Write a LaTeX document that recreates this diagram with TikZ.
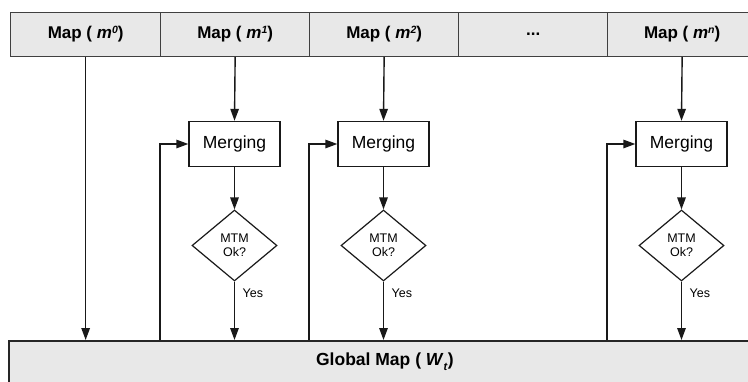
\documentclass[tikz,border=0pt]{standalone}
\usepackage{fontspec}
\setmainfont{Liberation Sans}
\usetikzlibrary{arrows.meta,shapes.geometric}

\begin{document}
\begin{tikzpicture}[x=1pt,y=-1pt,
  cell/.style={draw=black!75,line width=1.3pt,fill=black!9,
    minimum width=149pt,minimum height=44pt,inner sep=0pt,
    anchor=north west,font=\fontsize{17}{19}\selectfont\bfseries},
  bar/.style={draw=black!85,line width=1.7pt,fill=black!9,
    minimum width=752pt,minimum height=42pt,inner sep=0pt,
    anchor=north west,font=\fontsize{17.5}{19}\selectfont\bfseries},
  mergebox/.style={draw=black!90,line width=1.4pt,fill=white,
    minimum width=91pt,minimum height=45pt,inner sep=0pt,
    font=\fontsize{17.5}{20}\selectfont},
  check/.style={diamond,draw=black!90,line width=1.2pt,fill=white,
    minimum width=85pt,minimum height=71pt,inner sep=0pt,align=center,
    font=\fontsize{12.5}{13.5}\selectfont},
  yeslbl/.style={anchor=west,inner sep=0pt,font=\fontsize{12.5}{14}\selectfont},
  flow/.style={draw=black!90,line width=1.4pt,-{Triangle[length=12pt,width=8.5pt]}}
]
\useasboundingbox (0,0) rectangle (748,381);
\clip (0,0) rectangle (748,381);

\newcommand{\mapsup}[1]{\textit{m}\raisebox{5.5pt}{\fontsize{10.5}{10}\selectfont\textit{#1}}}

% header row of incoming maps
\node[cell,minimum width=150pt] (hm0) at (10,11.5) {Map ( \mapsup{0})};
\node[cell] (hm1) at (160,11.5) {Map ( \mapsup{1})};
\node[cell] (hm2) at (309,11.5) {Map ( \mapsup{2})};
\node[cell] (hdots) at (458,11.5) {...};
\node[cell] (hmn) at (607,11.5) {Map ( \mapsup{n})};

% global map bar
\node[bar] (gmap) at (8,340) {Global Map ( \textit{W}\raisebox{-4.5pt}{\fontsize{11}{10}\selectfont\textit{t}})};

% merging steps
\node[mergebox] (mg1) at (234.5,144) {Merging};
\node[mergebox] (mg2) at (383.5,144) {Merging};
\node[mergebox] (mgn) at (681.5,144) {Merging};

% MTM checks
\node[check] (ck1) at (234.5,245.5) {MTM\\Ok?};
\node[check] (ck2) at (383.5,245.5) {MTM\\Ok?};
\node[check] (ckn) at (681.5,245.5) {MTM\\Ok?};

% first map goes straight to the global map
\draw[flow] (hm0.south) -- (hm0.south |- gmap.north);

% map -> merging -> check -> global map
\foreach \h/\m/\c in {hm1/mg1/ck1, hm2/mg2/ck2, hmn/mgn/ckn}{
  \draw[flow] (\h.south) -- (\m.north);
  \draw[flow] (\m.south) -- (\c.north);
  \draw[flow] (\c.south) -- (\c.south |- gmap.north);
  \draw[flow] (\h.south west |- gmap.north) |- (\m.west);
  \node[yeslbl] at ([xshift=8pt,yshift=-12pt]\c.south) {Yes};
}
\end{tikzpicture}
\end{document}
